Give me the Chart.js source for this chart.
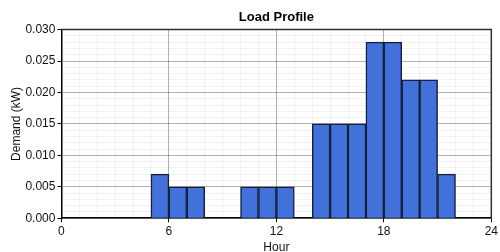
<!DOCTYPE html>
<html>
<head>
<meta charset="utf-8">
<script src="https://cdn.jsdelivr.net/npm/chart.js@4/dist/chart.umd.min.js"></script>
<style>
  html, body { margin: 0; padding: 0; background: #fff; }
  #wrap { width: 500px; height: 252px; }
</style>
</head>
<body>
<div id="wrap"><canvas id="loadChart"></canvas></div>
<script>
// hour of day each bar starts at
const hours = [0, 1, 2, 3, 4, 5, 6, 7, 8, 9, 10, 11, 12, 13, 14, 15, 16, 17, 18, 19, 20, 21, 22, 23];
// demand in kW for each hour (null = no load)
const demand = [null, null, null, null, null, 0.007, 0.005, 0.005, null, null, 0.005, 0.005,
  0.005, null, 0.015, 0.015, 0.015, 0.028, 0.028, 0.022, 0.022, 0.007, null, null];
const hourTicks = [0, 6, 12, 18, 24];
const demandTicks = [0, 0.005, 0.01, 0.015, 0.02, 0.025, 0.03];

const FONT = 'Liberation Sans, Arial, sans-serif';

const isHourMajor = (v) => hourTicks.includes(Math.round(v));
const isDemandMajor = (v) => demandTicks.some((t) => Math.abs(t - v) < 1e-7);

// translucent grey so that crossing grid lines never wash each other out
const MAJOR = 'rgba(0,0,0,0.3)';
const MINOR = 'rgba(0,0,0,0.05)';

// frame around the plot area (top and right side)
const frame = {
  id: 'frame',
  afterDatasetsDraw(chart) {
    const { ctx, chartArea: a } = chart;
    ctx.save();
    ctx.strokeStyle = '#303030';
    ctx.lineWidth = 1.5;
    ctx.beginPath();
    ctx.moveTo(a.left, a.top);
    ctx.lineTo(a.right, a.top);
    ctx.lineTo(a.right, a.bottom);
    ctx.stroke();
    ctx.restore();
  },
};

const ctx = document.getElementById('loadChart').getContext('2d');

new Chart(ctx, {
  type: 'bar',
  data: {
    datasets: [
      {
        label: 'Demand',
        data: hours.map((h, i) => ({ x: h + 0.5, y: demand[i] })),
        backgroundColor: '#4371db',
        borderColor: '#15203a',
        borderWidth: 1.5,
        borderSkipped: 'start',
        barPercentage: 1,
        categoryPercentage: 1,
      },
    ],
  },
  options: {
    responsive: true,
    maintainAspectRatio: false,
    animation: false,
    layout: { padding: { left: 0, right: -5, top: 0, bottom: -3 } },
    plugins: {
      legend: { display: false },
      tooltip: { enabled: false },
      title: {
        display: true,
        text: 'Load Profile',
        fullSize: false,
        color: '#000',
        font: { family: FONT, size: 13, weight: 'bold' },
        padding: { top: 10, bottom: 4 },
      },
    },
    scales: {
      x: {
        type: 'linear',
        min: 0,
        max: 24,
        offset: false,
        border: { color: '#000', width: 1.5 },
        grid: {
          offset: false,
          tickLength: 4,
          color: (c) => (isHourMajor(c.tick.value) ? MAJOR : MINOR),
          tickColor: (c) => (isHourMajor(c.tick.value) ? '#000' : 'rgba(0,0,0,0)'),
        },
        ticks: {
          stepSize: 1,
          autoSkip: false,
          maxRotation: 0,
          padding: 2,
          color: '#111',
          font: { family: FONT, size: 12 },
          callback: (v) => (isHourMajor(v) ? String(Math.round(v)) : ''),
        },
        title: {
          display: true,
          text: 'Hour',
          color: '#111',
          font: { family: FONT, size: 12 },
          padding: { top: 0, bottom: 0 },
        },
      },
      y: {
        min: 0,
        max: 0.03,
        border: { color: '#000', width: 1.5 },
        grid: {
          tickLength: 4,
          color: (c) => (isDemandMajor(c.tick.value) ? MAJOR : MINOR),
          tickColor: (c) => (isDemandMajor(c.tick.value) ? '#000' : 'rgba(0,0,0,0)'),
        },
        ticks: {
          stepSize: 0.001,
          autoSkip: false,
          padding: 2,
          color: '#111',
          font: { family: FONT, size: 12 },
          callback: (v) => (isDemandMajor(v) ? v.toFixed(3) : ''),
        },
        title: {
          display: true,
          text: 'Demand (kW)',
          color: '#111',
          font: { family: FONT, size: 12 },
          padding: { top: 9, bottom: 0 },
        },
      },
    },
  },
  plugins: [frame],
});
</script>
</body>
</html>
